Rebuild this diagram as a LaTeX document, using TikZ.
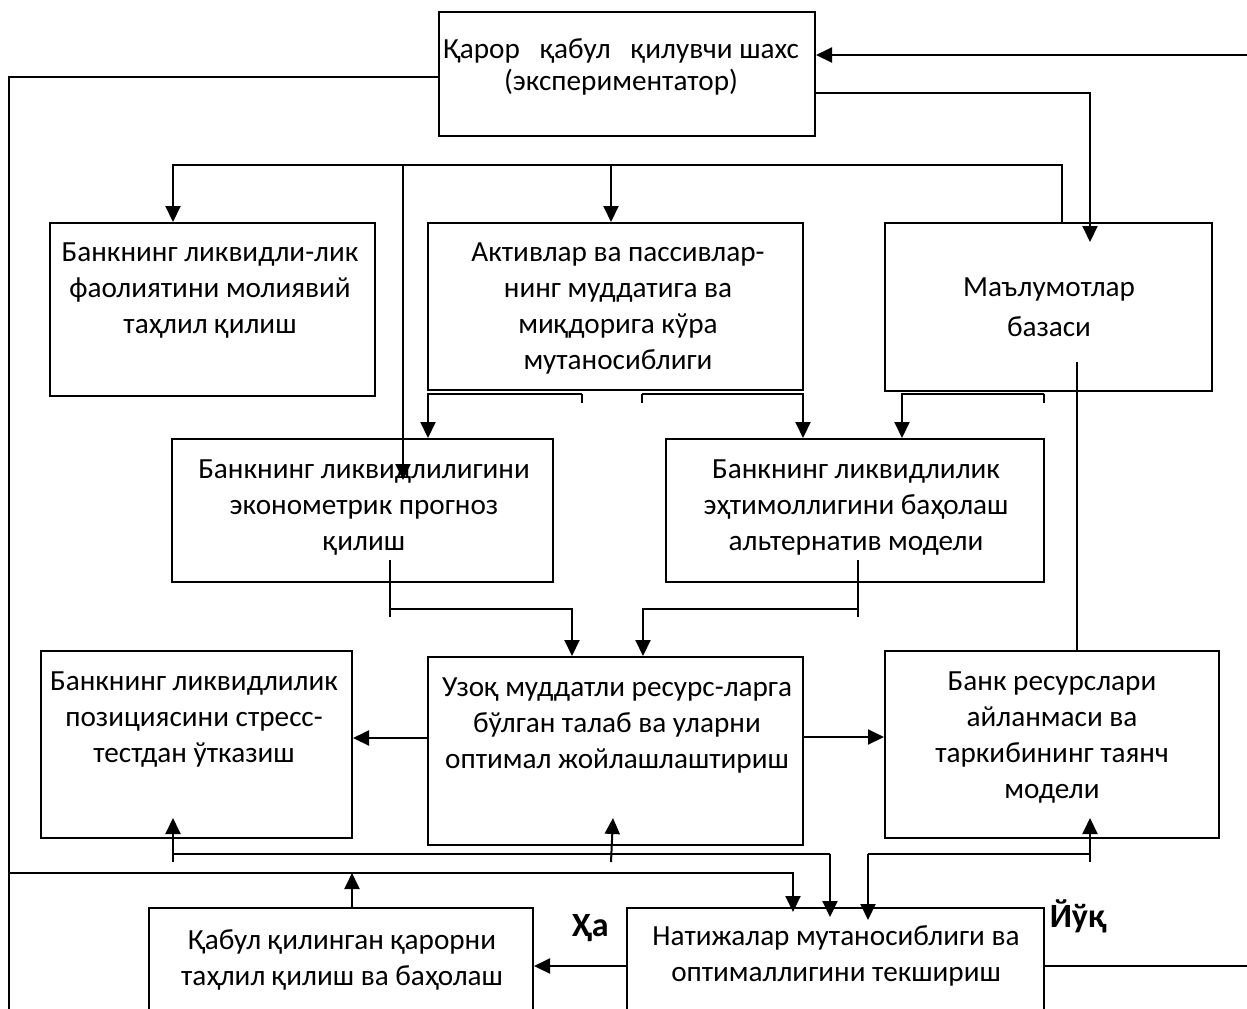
\documentclass[tikz,border=0pt]{standalone}
\usepackage{fontspec}
\setmainfont{Carlito}
\usetikzlibrary{arrows.meta,fit}
\newcommand\firstln{\rule{0pt}{12pt}}
\begin{document}
\begin{tikzpicture}[x=0.5pt,y=-0.5pt,
  box/.style={draw,line width=1pt,inner sep=0pt},
  txt/.style={align=center,inner sep=0pt,anchor=north,font=\fontsize{14.6pt}{18pt}\selectfont},
  lbl/.style={inner sep=0pt,anchor=base,font=\fontsize{17pt}{18pt}\selectfont\bfseries},
  conn/.style={line width=1pt},
  arr/.style={conn,-{Triangle[length=8pt,width=7.5pt]}},
  thinl/.style={line width=0.8pt}]
\useasboundingbox (0,0) rectangle (1247,1008);
\clip (0,0) rectangle (1247,1008);

% boxes
\node[box, fit={(439,12) (815,136)}] (b0) {};
\node[box, fit={(50,223) (375,396)}] (b1) {};
\node[box, fit={(428,223) (803,390)}] (b2) {};
\node[box, fit={(885,223) (1212,391)}] (b3) {};
\node[box, fit={(172,439) (553,582)}] (b4) {};
\node[box, fit={(666,439) (1044,582)}] (b5) {};
\node[box, fit={(428,657) (803,845)}] (b6) {};
\node[box, fit={(41,651) (352,838)}] (b7) {};
\node[box, fit={(885,651) (1219,838)}] (b8) {};
\node[box, fit={(627,908) (1044,1014)}] (b9) {};
\node[box, fit={(149,908) (533,1014)}] (b10) {};

% texts
\node[txt, font=\fontsize{14.6pt}{16pt}\selectfont] (t0) at (621,34) {\firstln\makebox[178pt]{Қарор\hfill қабул\hfill қилувчи шахс}\\(экспериментатор)};
\node[txt] (t1) at (210,237) {\firstln Банкнинг ликвидли-лик\\фаолиятини молиявий\\таҳлил қилиш};
\node[txt] (t2) at (618,237) {\firstln Активлар ва пассивлар-\\нинг муддатига ва\\миқдорига кўра\\мутаносиблиги};
\node[txt, font=\fontsize{14.6pt}{20pt}\selectfont] (t3) at (1049,272) {\firstln Маълумотлар\\базаси};
\node[txt] (t4) at (364,454) {\firstln Банкнинг ликвидлилигини\\эконометрик прогноз\\қилиш};
\node[txt] (t5) at (856,454) {\firstln Банкнинг ликвидлилик\\эҳтимоллигини баҳолаш\\альтернатив модели};
\node[txt] (t6) at (617,672) {\firstln Узоқ муддатли ресурс-ларга\\бўлган талаб ва уларни\\оптимал жойлашлаштириш};
\node[txt] (t7) at (194,666) {\firstln Банкнинг ликвидлилик\\позициясини стресс-\\тестдан ўтказиш};
\node[txt] (t8) at (1052,666) {\firstln Банк ресурслари\\айланмаси ва\\таркибининг таянч\\модели};
\node[txt] (t9) at (836,921) {\firstln Натижалар мутаносиблиги ва\\оптималлигини текшириш};
\node[txt] (t10) at (342,925) {\firstln Қабул қилинган қарорни\\таҳлил қилиш ва баҳолаш};

\node[lbl] (ha) at (590,936) {Ҳа};
\node[lbl] (yuq) at (1078,927) {Йўқ};

% coordinates for free ends
\coordinate (inR) at (1247,55);
\coordinate (outR) at (1247,966);
\coordinate (Lbot) at (9,1010);
\coordinate (Lmid) at (9,873);

% top box connections
\draw[conn] ([yshift=-1.5pt]b0.west) -| (Lbot);
\draw[arr] (inR) -- (b0.east |- inR);
\draw[arr] (b0.east |- 0,93) -| (1090,242);

% distribution from data base
\draw[arr] (1062,0 |- b3.north) |- (173,165) -- (173,0 |- b1.north);
\draw[arr] (611,165) -- (611,0 |- b2.north);
\draw[arr] (403,165) -- (403,480);

% brackets under row 1
\draw[thinl] (582,403) -- (582,394);
\draw[arr] (582,394) -| (428,0 |- b4.north);
\draw[thinl] (642,403) -- (642,394);
\draw[arr] (642,394) -| (803,0 |- b5.north);
\draw[thinl] (1044,403) -- (1044,394);
\draw[arr] (1044,394) -| (902,0 |- b5.north);

% brackets under row 2
\draw[thinl] (390,560) -- (390,617);
\draw[arr] (390,609) -| (572,0 |- b6.north);
\draw[thinl] (858,560) -- (858,617);
\draw[arr] (858,609) -| (643,0 |- b6.north);

% data base to base model
\draw[conn] (1077,362) -- (1077,0 |- b8.north);

% middle row
\draw[arr] (b6.west |- 0,738) -- (b7.east |- 0,738);
\draw[arr] (b6.east |- 0,737) -- (b8.west |- 0,737);

% feedback lines
\draw[conn] (173,854) -- (830,854);
\draw[arr] (830,854) -- (830,917);
\draw[arr] (173,862) -- (173,818);
\draw[arr] (611,862) -- (613,818);
\draw[conn] (868,854) -- (1090,854);
\draw[arr] (868,854) -- (868,920);
\draw[arr] (1090,862) -- (1090,818);
\draw[arr] (Lmid) -| (793,912);
\draw[arr] (352,0 |- b10.north) -- (352,873);

% bottom row
\draw[arr] (b9.west |- 0,966) -- (b10.east |- 0,966);
\draw[conn] (b9.east |- 0,966) -- (outR);
\end{tikzpicture}
\end{document}
